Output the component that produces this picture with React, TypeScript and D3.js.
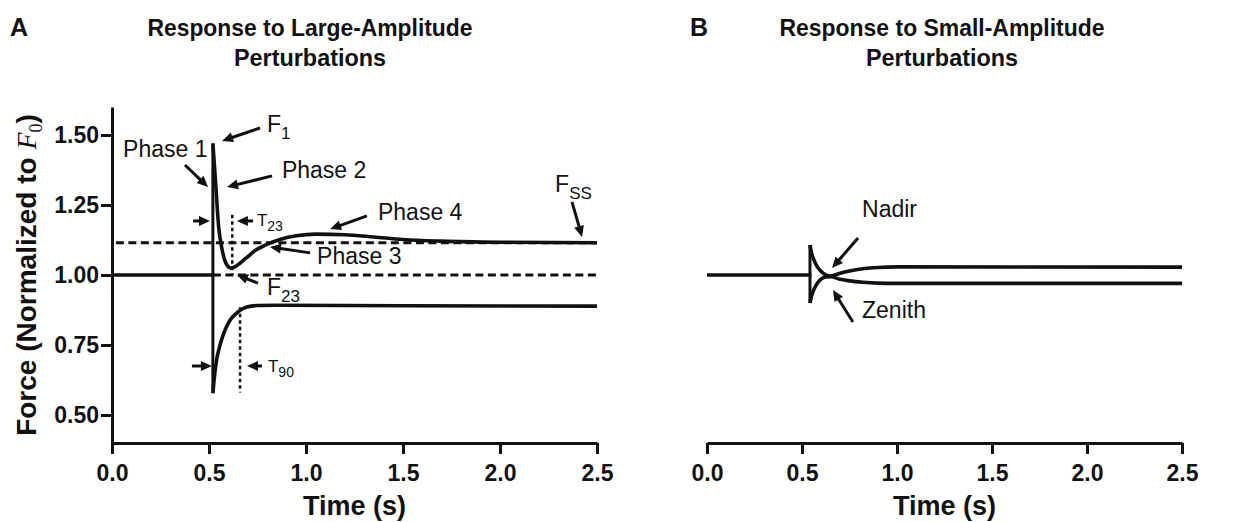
import React, { useEffect, useRef } from 'react';
import * as d3 from 'd3';

type Pt = [number, number];

const xTicks = [0, 0.5, 1.0, 1.5, 2.0, 2.5];
const yTicks = [0.5, 0.75, 1.0, 1.25, 1.5];

// panel A traces (time s, normalized force)
const upperA: Pt[] = [
  [0, 1.0], [0.52, 1.0], [0.52, 1.47], [0.535, 1.32], [0.55, 1.17], [0.565, 1.1],
  [0.58, 1.055], [0.595, 1.033], [0.61, 1.025], [0.63, 1.028], [0.65, 1.037],
  [0.69, 1.06], [0.74, 1.088], [0.8, 1.11], [0.87, 1.128], [0.95, 1.14],
  [1.05, 1.146], [1.2, 1.144], [1.35, 1.136], [1.5, 1.127], [1.7, 1.121],
  [2.0, 1.117], [2.5, 1.115],
];
const lowerA: Pt[] = [
  [0, 1.0], [0.52, 1.0], [0.52, 0.578], [0.53, 0.65], [0.54, 0.7], [0.555, 0.745],
  [0.57, 0.78], [0.59, 0.815], [0.61, 0.84], [0.65, 0.868], [0.695, 0.886],
  [0.75, 0.891], [0.85, 0.892], [1.5, 0.89], [2.5, 0.889],
];
// panel B traces
const upperB: Pt[] = [
  [0, 1.0], [0.542, 1.0], [0.542, 1.107], [0.55, 1.08], [0.565, 1.05], [0.58, 1.03],
  [0.6, 1.013], [0.625, 1.0], [0.65, 0.996], [0.7, 1.006], [0.75, 1.014],
  [0.82, 1.022], [0.9, 1.027], [1.0, 1.029], [2.5, 1.028],
];
const lowerB: Pt[] = [
  [0, 1.0], [0.542, 1.0], [0.542, 0.9], [0.55, 0.925], [0.565, 0.952], [0.58, 0.97],
  [0.6, 0.985], [0.625, 0.993], [0.65, 0.994], [0.7, 0.985], [0.75, 0.979],
  [0.82, 0.974], [0.9, 0.971], [1.0, 0.97], [2.5, 0.97],
];

const fss = 1.115;
const f0 = 1.0;
const t23 = 0.62;
const t90 = 0.66;

type Arrow = { from: Pt; to: Pt };
type Label = { text: string; sub?: string; t: number; v: number; small?: boolean };

const arrowsA: Arrow[] = [
  { from: [0.763, 1.525], to: [0.567, 1.479] }, // F1
  { from: [0.376, 1.393], to: [0.495, 1.314] }, // Phase 1
  { from: [0.825, 1.354], to: [0.593, 1.314] }, // Phase 2
  { from: [0.418, 1.193], to: [0.505, 1.193] }, // T23 left
  { from: [0.727, 1.193], to: [0.644, 1.193] }, // T23 right
  { from: [1.021, 1.079], to: [0.814, 1.1] }, // Phase 3
  { from: [0.753, 0.971], to: [0.644, 1.0] }, // F23
  { from: [1.314, 1.211], to: [1.124, 1.164] }, // Phase 4
  { from: [2.371, 1.261], to: [2.423, 1.136] }, // Fss
  { from: [0.412, 0.675], to: [0.515, 0.675] }, // T90 left
  { from: [0.773, 0.675], to: [0.696, 0.675] }, // T90 right
];
const labelsA: Label[] = [
  { text: 'F', sub: '1', t: 0.799, v: 1.511 },
  { text: 'Phase 1', t: 0.057, v: 1.421 },
  { text: 'Phase 2', t: 0.876, v: 1.346 },
  { text: 'T', sub: '23', t: 0.747, v: 1.175, small: true },
  { text: 'Phase 3', t: 1.057, v: 1.04 },
  { text: 'F', sub: '23', t: 0.799, v: 0.929 },
  { text: 'Phase 4', t: 1.371, v: 1.196 },
  { text: 'F', sub: 'SS', t: 2.284, v: 1.296 },
  { text: 'T', sub: '90', t: 0.804, v: 0.654, small: true },
];
const arrowsB: Arrow[] = [
  { from: [0.795, 1.132], to: [0.658, 1.025] }, // Nadir
  { from: [0.768, 0.832], to: [0.663, 0.946] }, // Zenith
];
const labelsB: Label[] = [
  { text: 'Nadir', t: 0.816, v: 1.207 },
  { text: 'Zenith', t: 0.816, v: 0.846 },
];

const W = 1233;
const H = 522;
const font = '"Liberation Sans", Arial, Helvetica, sans-serif';
const serif = '"Liberation Serif", "Times New Roman", serif';

const App: React.FC = () => {
  const ref = useRef<SVGSVGElement>(null);

  useEffect(() => {
    if (!ref.current) return;
    const svg = d3.select(ref.current);
    svg.selectAll('*').remove();

    const y = d3.scaleLinear().domain([0.4, 1.6]).range([443, 107]);
    const xA = d3.scaleLinear().domain([0, 2.5]).range([112, 597]);
    const xB = d3.scaleLinear().domain([0, 2.5]).range([707, 1182]);

    const styleAxis = (g: d3.Selection<SVGGElement, unknown, null, undefined>) => {
      g.select('.domain').attr('stroke', '#111').attr('stroke-width', 3);
      g.selectAll('.tick line').attr('stroke', '#111').attr('stroke-width', 3);
      g.selectAll('.tick text')
        .attr('fill', '#111')
        .attr('font-family', font)
        .attr('font-weight', 'bold')
        .attr('font-size', 23);
    };

    const drawTrace = (x: d3.ScaleLinear<number, number>, data: Pt[]) => {
      const spike = data.findIndex((d, i) => i > 0 && d[0] === data[i - 1][0]);
      svg
        .append('path')
        .datum(data.slice(0, spike + 1))
        .attr('fill', 'none')
        .attr('stroke', '#111')
        .attr('stroke-width', 3)
        .attr('d', d3.line<Pt>().x(d => x(d[0])).y(d => y(d[1])));
      svg
        .append('path')
        .datum(data.slice(spike))
        .attr('fill', 'none')
        .attr('stroke', '#111')
        .attr('stroke-width', 3.6)
        .attr('stroke-linejoin', 'round')
        .attr(
          'd',
          d3.line<Pt>().curve(d3.curveMonotoneX).x(d => x(d[0])).y(d => y(d[1])),
        );
    };

    const drawArrows = (x: d3.ScaleLinear<number, number>, arrows: Arrow[]) => {
      arrows.forEach(a => {
        const x0 = x(a.from[0]);
        const y0 = y(a.from[1]);
        const x1 = x(a.to[0]);
        const y1 = y(a.to[1]);
        const len = Math.hypot(x1 - x0, y1 - y0);
        const ux = (x1 - x0) / len;
        const uy = (y1 - y0) / len;
        const hl = 11;
        const hw = 5;
        svg
          .append('line')
          .attr('x1', x0)
          .attr('y1', y0)
          .attr('x2', x1 - ux * (hl - 2))
          .attr('y2', y1 - uy * (hl - 2))
          .attr('stroke', '#111')
          .attr('stroke-width', 3);
        const bx = x1 - ux * hl;
        const by = y1 - uy * hl;
        svg
          .append('path')
          .attr(
            'd',
            `M${x1},${y1}L${bx - uy * hw},${by + ux * hw}L${bx + uy * hw},${by - ux * hw}Z`,
          )
          .attr('fill', '#111');
      });
    };

    const drawLabels = (x: d3.ScaleLinear<number, number>, labels: Label[]) => {
      labels.forEach(l => {
        const t = svg
          .append('text')
          .attr('x', x(l.t))
          .attr('y', y(l.v))
          .attr('font-family', font)
          .attr('font-size', l.small ? 17 : 23)
          .attr('fill', '#111')
          .text(l.text);
        if (l.sub) {
          t.append('tspan')
            .attr('dy', l.small ? 5 : 7)
            .attr('font-size', l.small ? 14 : 17)
            .text(l.sub);
        }
      });
    };

    const drawTitle = (letter: string, lx: number, cx: number, lines: string[]) => {
      svg
        .append('text')
        .attr('x', lx)
        .attr('y', 36)
        .attr('font-family', font)
        .attr('font-weight', 'bold')
        .attr('font-size', 25)
        .attr('fill', '#111')
        .text(letter);
      lines.forEach((s, i) => {
        svg
          .append('text')
          .attr('x', cx)
          .attr('y', 36 + i * 30)
          .attr('text-anchor', 'middle')
          .attr('font-family', font)
          .attr('font-weight', 'bold')
          .attr('font-size', 24)
          .attr('textLength', i === 0 ? 325 : 152)
          .attr('lengthAdjust', 'spacingAndGlyphs')
          .attr('fill', '#111')
          .text(s);
      });
    };

    const axisTitle = (cx: number) =>
      svg
        .append('text')
        .attr('x', cx)
        .attr('y', 515)
        .attr('text-anchor', 'middle')
        .attr('font-family', font)
        .attr('font-weight', 'bold')
        .attr('font-size', 27)
        .attr('fill', '#111')
        .text('Time (s)');

    // ---- Panel A ----
    drawTitle('A', 10, 310, ['Response to Large-Amplitude', 'Perturbations']);

    const dashed = (x: d3.ScaleLinear<number, number>, v: number, t0: number) =>
      svg
        .append('line')
        .attr('x1', x(t0))
        .attr('x2', x(2.5))
        .attr('y1', y(v))
        .attr('y2', y(v))
        .attr('stroke', '#111')
        .attr('stroke-width', 3)
        .attr('stroke-dasharray', '8 4.5');

    dashed(xA, fss, 0.02);
    dashed(xA, f0, 0.52);

    const dotted = (x: d3.ScaleLinear<number, number>, t: number, v0: number, v1: number) =>
      svg
        .append('line')
        .attr('x1', x(t))
        .attr('x2', x(t))
        .attr('y1', y(v0))
        .attr('y2', y(v1))
        .attr('stroke', '#111')
        .attr('stroke-width', 2.5)
        .attr('stroke-dasharray', '3.5 3');

    dotted(xA, t23, 1.215, 1.0);
    dotted(xA, t90, 0.885, 0.58);

    drawTrace(xA, upperA);
    drawTrace(xA, lowerA);

    svg
      .append('g')
      .attr('transform', `translate(${xA(0)},0)`)
      .call(
        d3
          .axisLeft(y)
          .tickValues(yTicks)
          .tickFormat(d3.format('.2f'))
          .tickSize(11)
          .tickSizeOuter(0)
          .tickPadding(2),
      )
      .call(styleAxis);

    svg
      .append('g')
      .attr('transform', `translate(0,${y(0.4)})`)
      .call(
        d3
          .axisBottom(xA)
          .tickValues(xTicks)
          .tickFormat(d3.format('.1f'))
          .tickSize(11)
          .tickSizeOuter(0)
          .tickPadding(11),
      )
      .call(styleAxis);

    drawArrows(xA, arrowsA);
    drawLabels(xA, labelsA);

    const yTitle = svg
      .append('text')
      .attr('transform', `translate(36,${(y(0.4) + y(1.6)) / 2}) rotate(-90)`)
      .attr('text-anchor', 'middle')
      .attr('font-family', font)
      .attr('font-weight', 'bold')
      .attr('font-size', 28)
      .attr('fill', '#111')
      .text('Force (Normalized to ');
    yTitle
      .append('tspan')
      .attr('font-family', serif)
      .attr('font-style', 'italic')
      .attr('font-weight', 'normal')
      .text('F');
    yTitle
      .append('tspan')
      .attr('font-family', serif)
      .attr('font-weight', 'normal')
      .attr('font-size', 18)
      .attr('dy', 6)
      .text('0');
    yTitle.append('tspan').attr('dy', -6).text(')');

    axisTitle((xA(0) + xA(2.5)) / 2);

    // ---- Panel B ----
    drawTitle('B', 690, 942, ['Response to Small-Amplitude', 'Perturbations']);

    drawTrace(xB, upperB);
    drawTrace(xB, lowerB);

    svg
      .append('g')
      .attr('transform', `translate(0,${y(0.4)})`)
      .call(
        d3
          .axisBottom(xB)
          .tickValues(xTicks)
          .tickFormat(d3.format('.1f'))
          .tickSize(11)
          .tickSizeOuter(0)
          .tickPadding(11),
      )
      .call(styleAxis);

    drawArrows(xB, arrowsB);
    drawLabels(xB, labelsB);

    axisTitle((xB(0) + xB(2.5)) / 2);
  }, []);

  return (
    <svg
      ref={ref}
      width={W}
      height={H}
      style={{ position: 'absolute', left: 0, top: 0, background: '#fff' }}
    />
  );
};

export default App;
